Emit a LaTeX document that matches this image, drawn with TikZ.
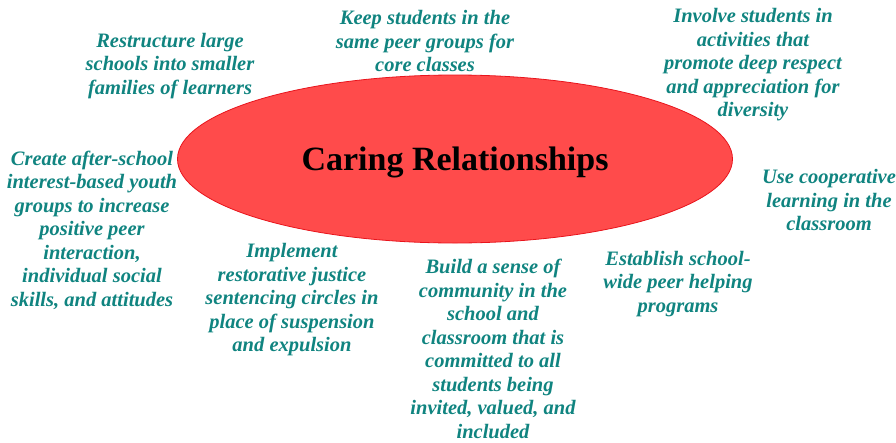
\documentclass[tikz,border=0pt]{standalone}
\usepackage{fontspec}
\setmainfont{Liberation Serif}
\usetikzlibrary{positioning, shapes.geometric}

\definecolor{tealtext}{HTML}{108480}
\definecolor{hubfill}{HTML}{FF4B4B}
\definecolor{hubline}{HTML}{E8141C}

\begin{document}
\begin{tikzpicture}[x=1pt, y=-1pt,
    hub/.style={ellipse, draw=hubline, fill=hubfill, line width=0.8pt, minimum width=555pt, minimum height=168pt, inner sep=0pt},
    topic/.style={align=center, text=tealtext, font=\fontsize{20.5}{23.5}\selectfont\bfseries\itshape}]

\useasboundingbox (0,0) rectangle (896,442);

% Centre ellipse
\node[hub] (care) at (455,159) {};
\node[font=\fontsize{34}{38}\selectfont\bfseries, anchor=base] (title) at (455,170) {Caring Relationships};

% Ideas around the ellipse
\node[topic] (families) at (170,66) {Restructure large\\schools into smaller\\families of learners};
\node[topic] (peers) at (425,41) {Keep students in the\\same peer groups for\\core classes};
\node[topic] (diversity) at (753,65) {Involve students in\\activities that\\promote deep respect\\and appreciation for\\diversity};
\node[topic] (coop) at (829,200) {Use cooperative\\learning in the\\classroom};
\node[topic] (helping) at (678,284) {Establish school-\\wide peer helping\\programs};
\node[topic] (community) at (493,349) {Build a sense of\\community in the\\school and\\classroom that is\\committed to all\\students being\\invited, valued, and\\included};
\node[topic] (justice) at (292,300) {Implement\\restorative justice\\sentencing circles in\\place of suspension\\and expulsion};
\node[topic] (afterschool) at (92,230) {Create after-school\\interest-based youth\\groups to increase\\positive peer\\interaction,\\individual social\\skills, and attitudes};

\end{tikzpicture}
\end{document}
